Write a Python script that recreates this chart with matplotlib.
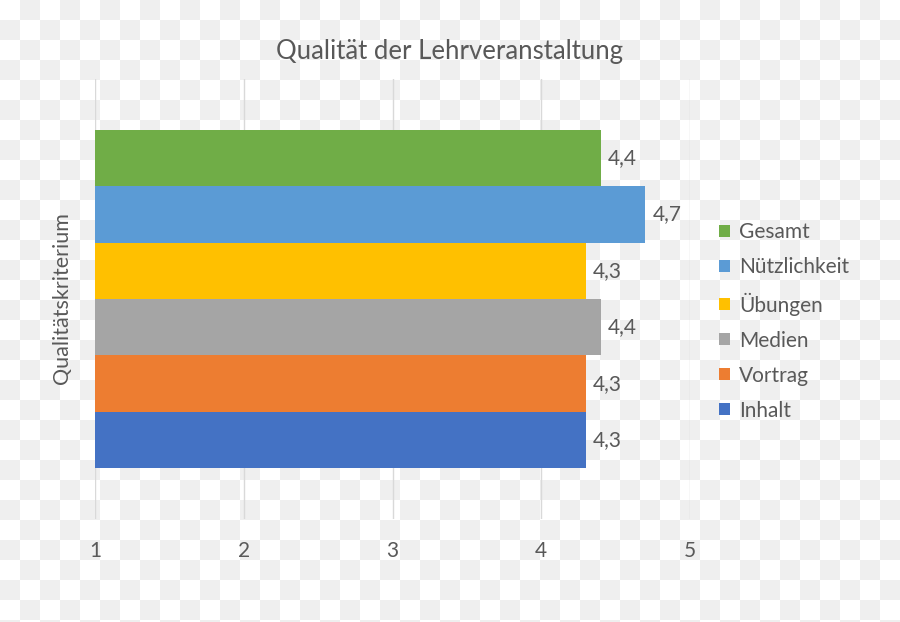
import matplotlib.pyplot as plt
import numpy as np
from matplotlib.patches import Patch

plt.rcParams['font.family'] = ['Lato', 'DejaVu Sans']

# Daten (von unten nach oben)
kriterien = ['Inhalt', 'Vortrag', 'Medien', 'Übungen', 'Nützlichkeit', 'Gesamt']
werte = [4.3, 4.3, 4.4, 4.3, 4.7, 4.4]
farben = ['#4472C4', '#ED7D31', '#A5A5A5', '#FFC000', '#5B9BD5', '#70AD47']
x_ticks = [1, 2, 3, 4, 5]

textfarbe = '#595959'

fig = plt.figure(figsize=(9, 6.22), dpi=100)
fig.patch.set_alpha(0)

# Schachbrett-Hintergrund (transparentes PNG)
h, w = 622, 900
yy, xx = np.mgrid[0:h, 0:w]
brett = np.where(((yy // 20) + (xx // 20)) % 2 == 1, 0.94, 1.0)
fig.figimage(np.dstack([brett, brett, brett]), xo=0, yo=0, origin='upper', zorder=-10)

ax = fig.add_axes([95 / 900, 1 - 519 / 622, (690 - 95) / 900, (519 - 79) / 622])
ax.set_facecolor('none')

pos = np.arange(len(kriterien))
for p, v, c, k in zip(pos, werte, farben, kriterien):
    ax.barh(p, v, height=1.0, color=c, label=k, zorder=3)
    ax.annotate(f'{v:.1f}'.replace('.', ','), (v, p), xytext=(5, 0),
                textcoords='offset points', va='center', ha='left',
                fontsize=15, color=textfarbe, zorder=4)

ax.set_xlim(1, 5)
ax.set_ylim(-1.4, 6.4)
ax.set_xticks(x_ticks)
ax.set_xticklabels([str(t) for t in x_ticks])
ax.set_yticks([])
ax.tick_params(axis='x', length=0, pad=16, labelsize=15, labelcolor=textfarbe)
ax.grid(axis='x', color='#D9D9D9', linewidth=1, zorder=0)
for s in ax.spines.values():
    s.set_visible(False)

fig.text(449.5 / 900, 1 - 52 / 622, 'Qualität der Lehrveranstaltung',
         ha='center', va='center', fontsize=18.5, color=textfarbe)
fig.text(62 / 900, 1 - 298 / 622, 'Qualitätskriterium', rotation=90,
         ha='center', va='center', fontsize=15.5, color=textfarbe)

handles = [Patch(facecolor=c, edgecolor='none', label=k)
           for k, c in zip(kriterien[::-1], farben[::-1])]
leg = fig.legend(handles=handles, loc='center left',
                 bbox_to_anchor=(719 / 900, 1 - 321.5 / 622),
                 frameon=False, fontsize=15, labelcolor=textfarbe,
                 handlelength=0.55, handleheight=0.55, handletextpad=0.4,
                 labelspacing=0.72, borderpad=0, borderaxespad=0)

fig.savefig('out.png', dpi=100)
